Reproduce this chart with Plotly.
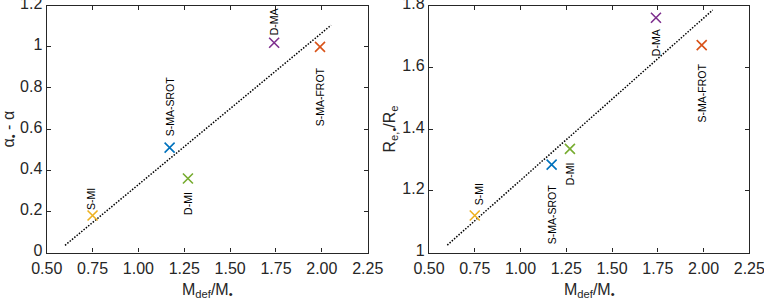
import plotly.graph_objects as go

# ---- data ----
models = ["S-MI", "S-MA-SROT", "D-MI", "D-MA", "S-MA-FROT"]
m_ratio = [0.75, 1.17, 1.27, 1.74, 1.99]
alpha_diff = [0.18, 0.51, 0.36, 1.02, 1.00]
re_ratio = [1.12, 1.285, 1.336, 1.761, 1.672]
fit_x = [0.60, 2.05]
fit_alpha = [0.035, 1.105]
fit_re = [1.024, 1.786]
x_ticks = [0.5, 0.75, 1.0, 1.25, 1.5, 1.75, 2.0, 2.25]
alpha_ticks = [0, 0.2, 0.4, 0.6, 0.8, 1.0, 1.2]
re_ticks = [1.0, 1.2, 1.4, 1.6, 1.8]

# ---- style ----
colors = ["#EDB120", "#0072BD", "#77AC30", "#7E2F8E", "#D95319"]
FONT = "Liberation Sans, Arial, Helvetica, sans-serif"
AX = "#262626"
W, H = 764, 302
# label placement (anchor, xshift, yshift) per panel
left_lab = [("bottom", -1, 3), ("bottom", 0, 9), ("top", 0, -11), ("bottom", 0, 5), ("top", 0, -19)]
right_lab = [("bottom", 5, 8), ("top", 0, -18), ("top", 0, -11), ("top", 0, -9), ("top", 0, -16)]

fig = go.Figure()

def add_panel(xa, ya, yvals, fit_y, labs):
    fig.add_trace(go.Scatter(x=fit_x, y=fit_y, mode="lines", xaxis=xa, yaxis=ya,
                             line=dict(color="black", width=1.5, dash="1.5px,1.5px"),
                             showlegend=False, hoverinfo="skip"))
    for i, name in enumerate(models):
        fig.add_trace(go.Scatter(x=[m_ratio[i]], y=[yvals[i]], mode="markers",
                                 xaxis=xa, yaxis=ya, showlegend=False,
                                 marker=dict(symbol="x-thin", size=10,
                                             line=dict(color=colors[i], width=1.6))))
        anc, xs, ys = labs[i]
        fig.add_annotation(x=m_ratio[i], y=yvals[i], xref=xa, yref=ya, text=name,
                           showarrow=False, textangle=-90, xanchor="center",
                           yanchor=anc, xshift=xs, yshift=ys,
                           font=dict(family=FONT, size=10.5, color="black"))

add_panel("x", "y", alpha_diff, fit_alpha, left_lab)
add_panel("x2", "y2", re_ratio, fit_re, right_lab)

axis_common = dict(showline=True, linecolor=AX, linewidth=1.4, mirror="allticks",
                   ticks="inside", ticklen=4, tickwidth=1, tickcolor=AX,
                   showgrid=False, zeroline=False, ticklabeloverflow="allow",
                   automargin=False,
                   tickfont=dict(family=FONT, size=16, color=AX))

y0 = 1 - 252.5 / H
y1 = 1 - 5.7 / H
fig.update_layout(
    width=W, height=H, margin=dict(l=0, r=0, t=0, b=0),
    paper_bgcolor="white", plot_bgcolor="white",
    xaxis=dict(domain=[46.7 / W, 367.7 / W], range=[0.5, 2.25], tickvals=x_ticks,
               tickformat=".2f", anchor="y", ticklabelstandoff=1, **axis_common),
    yaxis=dict(domain=[y0, y1], range=[0, 1.2], tickvals=alpha_ticks, anchor="x",
               ticklabelshift=-2, **axis_common),
    xaxis2=dict(domain=[429 / W, 749.3 / W], range=[0.5, 2.25], tickvals=x_ticks,
                tickformat=".2f", anchor="y2", ticklabelstandoff=1, **axis_common),
    yaxis2=dict(domain=[y0, y1], range=[1, 1.8], tickvals=re_ticks, anchor="x2",
                ticklabelshift=-2, **axis_common),
)

tfont = dict(family=FONT, size=16, color=AX)
# axis titles
fig.add_annotation(x=207 / W, y=1 - 279 / H, xref="paper", yref="paper",
                   text="M<sub>def</sub>/M<sub>•</sub>", showarrow=False,
                   xanchor="center", yanchor="top", font=tfont)
fig.add_annotation(x=589 / W, y=1 - 279 / H, xref="paper", yref="paper",
                   text="M<sub>def</sub>/M<sub>•</sub>", showarrow=False,
                   xanchor="center", yanchor="top", font=tfont)
fig.add_annotation(x=-3 / W, y=1 - 129 / H, xref="paper", yref="paper",
                   text="α<sub>•</sub> - α", showarrow=False, textangle=-90,
                   xanchor="left", yanchor="middle", font=tfont)
fig.add_annotation(x=378 / W, y=1 - 129 / H, xref="paper", yref="paper",
                   text="R<sub>e,•</sub>/R<sub>e</sub>", showarrow=False, textangle=-90,
                   xanchor="left", yanchor="middle", font=tfont)

fig.write_html("out.html", config={"displayModeBar": False},
               post_script="document.body.style.margin='0px';"
                           "document.body.style.overflow='hidden';")
